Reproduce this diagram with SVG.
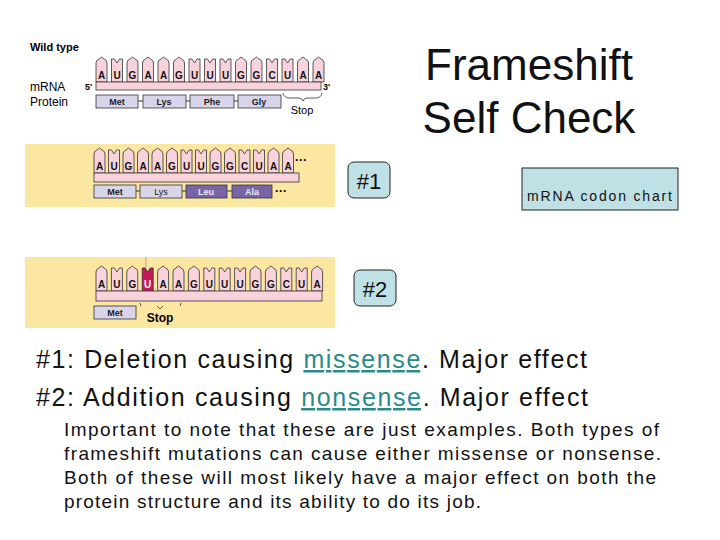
<svg xmlns="http://www.w3.org/2000/svg" xmlns:xlink="http://www.w3.org/1999/xlink" width="720" height="540" viewBox="0 0 720 540">
<style>
.t{font-family:"Liberation Sans",Arial,sans-serif}
.tile{fill:#f9d3dc;stroke:#333;stroke-width:0.8}
.bar{fill:#f9d3dc;stroke:#333;stroke-width:0.8}
.b{font-family:"Liberation Sans",Arial,sans-serif;font-size:10px;font-weight:bold;text-anchor:middle;fill:#111}
.p{fill:#d8d4ea;stroke:#333;stroke-width:0.8}
.pd{fill:#7a64a8;stroke:#333;stroke-width:0.8}
.pl{font-family:"Liberation Sans",Arial,sans-serif;font-size:9px;font-weight:bold;text-anchor:middle;fill:#222}
.plw{font-family:"Liberation Sans",Arial,sans-serif;font-size:9px;font-weight:bold;text-anchor:middle;fill:#ece8f8}
.box{fill:#bfe0e4;stroke:#222;stroke-width:1}
.big{font-family:"Liberation Sans",Arial,sans-serif;font-size:25px;fill:#111}
.sm{font-family:"Liberation Sans",Arial,sans-serif;font-size:19px;fill:#111}
.lk{fill:#2a8a8a;text-decoration:underline}
</style>
<defs>
<path id="pu" class="tile" d="M0,25 V6 Q0,3 3,2 L5.5,0 L8,2 Q11,3 11,6 V25 Z"/>
<path id="py" class="tile" d="M0,25 V2 L3,2 L5.5,6 L8,2 L11,2 V25 Z"/>
</defs>

<g id="wildtype">
<text x="30" y="51" class="t" font-size="11" font-weight="bold">Wild type</text>
<text x="30" y="91" class="t" font-size="12">mRNA</text>
<text x="30" y="106" class="t" font-size="12">Protein</text>
<text x="85" y="90" class="t" font-size="9" font-weight="bold">5'</text>
<text x="323" y="90" class="t" font-size="9" font-weight="bold">3'</text>
<use href="#pu" x="96" y="57"/><use href="#py" x="111.5" y="57"/><use href="#pu" x="127" y="57"/><use href="#pu" x="142.5" y="57"/><use href="#pu" x="158" y="57"/><use href="#pu" x="173.5" y="57"/><use href="#py" x="189" y="57"/><use href="#py" x="204.5" y="57"/><use href="#py" x="220" y="57"/><use href="#pu" x="235.5" y="57"/><use href="#pu" x="251" y="57"/><use href="#py" x="266.5" y="57"/><use href="#py" x="282" y="57"/><use href="#pu" x="297.5" y="57"/><use href="#pu" x="313" y="57"/>
<g class="b"><text x="101.5" y="79">A</text><text x="117" y="79">U</text><text x="132.5" y="79">G</text><text x="148" y="79">A</text><text x="163.5" y="79">A</text><text x="179" y="79">G</text><text x="194.5" y="79">U</text><text x="210" y="79">U</text><text x="225.5" y="79">U</text><text x="241" y="79">G</text><text x="256.5" y="79">G</text><text x="272" y="79">C</text><text x="287.5" y="79">U</text><text x="303" y="79">A</text><text x="318.5" y="79">A</text></g>
<rect class="bar" x="96" y="82" width="225" height="8"/>
<line x1="138" y1="101" x2="143" y2="101" stroke="#333"/><line x1="186" y1="101" x2="190" y2="101" stroke="#333"/><line x1="234" y1="101" x2="238" y2="101" stroke="#333"/>
<rect class="p" x="96" y="95" width="42" height="13"/><rect class="p" x="143" y="95" width="43" height="13"/><rect class="p" x="190" y="95" width="44" height="13"/><rect class="p" x="238" y="95" width="43" height="13"/>
<g class="pl"><text x="117" y="105">Met</text><text x="164" y="105">Lys</text><text x="212" y="105">Phe</text><text x="259" y="105">Gly</text></g>
<path d="M283,93 Q284,98 290,98 L299,98 Q302,98 303,101 Q304,98 307,98 L316,98 Q321,98 322,93" fill="none" stroke="#333" stroke-width="0.8"/>
<text x="302" y="114" class="t" font-size="11" text-anchor="middle">Stop</text>
</g>

<g id="panel1">
<rect x="25" y="144" width="310" height="63" fill="#fbe6a2"/>
<use href="#pu" x="94" y="148"/><use href="#py" x="108.5" y="148"/><use href="#pu" x="123" y="148"/><use href="#pu" x="137.5" y="148"/><use href="#pu" x="152" y="148"/><use href="#pu" x="166.5" y="148"/><use href="#py" x="181" y="148"/><use href="#py" x="195.5" y="148"/><use href="#pu" x="210" y="148"/><use href="#pu" x="224.5" y="148"/><use href="#py" x="239" y="148"/><use href="#py" x="253.5" y="148"/><use href="#pu" x="268" y="148"/><use href="#pu" x="282.5" y="148"/>
<g class="b"><text x="99.5" y="170">A</text><text x="114" y="170">U</text><text x="128.5" y="170">G</text><text x="143" y="170">A</text><text x="157.5" y="170">A</text><text x="172" y="170">G</text><text x="186.5" y="170">U</text><text x="201" y="170">U</text><text x="215.5" y="170">G</text><text x="230" y="170">G</text><text x="244.5" y="170">C</text><text x="259" y="170">U</text><text x="273.5" y="170">A</text><text x="288" y="170">A</text></g>
<text x="295" y="164" class="t" font-size="12" font-weight="bold">···</text>
<rect class="bar" x="94" y="173" width="205" height="9"/>
<line x1="136" y1="191" x2="140" y2="191" stroke="#333"/><line x1="182" y1="191" x2="186" y2="191" stroke="#333"/><line x1="227" y1="191" x2="232" y2="191" stroke="#333"/>
<rect class="p" x="94" y="185" width="42" height="13"/><rect class="p" x="140" y="185" width="42" height="13"/><rect class="pd" x="186" y="185" width="41" height="13"/><rect class="pd" x="232" y="185" width="40" height="13"/>
<g class="pl"><text x="115" y="195">Met</text><text x="161" y="195" font-weight="normal">Lys</text></g>
<g class="plw"><text x="206" y="195">Leu</text><text x="252" y="195">Ala</text></g>
<text x="275" y="195" class="t" font-size="12" font-weight="bold">···</text>
</g>

<g id="panel2">
<rect x="25" y="257" width="310" height="71" fill="#fbe6a2"/>
<line x1="146" y1="257" x2="146" y2="268" stroke="#888" stroke-width="0.7"/>
<use href="#pu" x="96" y="266"/><use href="#py" x="111.4" y="266"/><use href="#pu" x="126.8" y="266"/>
<path d="M142.2,291 V268 L145.2,268 L147.7,272 L150.2,268 L153.2,268 V291 Z" fill="#c8185a" stroke="#333" stroke-width="0.8"/>
<use href="#pu" x="157.6" y="266"/><use href="#pu" x="173" y="266"/><use href="#pu" x="188.4" y="266"/><use href="#py" x="203.8" y="266"/><use href="#py" x="219.2" y="266"/><use href="#py" x="234.6" y="266"/><use href="#pu" x="250" y="266"/><use href="#pu" x="265.4" y="266"/><use href="#py" x="280.8" y="266"/><use href="#py" x="296.2" y="266"/><use href="#pu" x="311.6" y="266"/>
<g class="b"><text x="101.5" y="288">A</text><text x="116.9" y="288">U</text><text x="132.3" y="288">G</text><text x="147.7" y="288" fill="#fff">U</text><text x="163.1" y="288">A</text><text x="178.5" y="288">A</text><text x="193.9" y="288">G</text><text x="209.3" y="288">U</text><text x="224.7" y="288">U</text><text x="240.1" y="288">U</text><text x="255.5" y="288">G</text><text x="270.9" y="288">G</text><text x="286.3" y="288">C</text><text x="301.7" y="288">U</text><text x="317.1" y="288">A</text></g>
<rect class="bar" x="96" y="291" width="226" height="10"/>
<rect class="p" x="94" y="306" width="42" height="13"/>
<text x="115" y="316" class="pl">Met</text>
<path d="M140,303 L141,306 M157,306 L160,309 L163,306 M180,306 L181,303" fill="none" stroke="#333" stroke-width="0.8"/>
<text x="160" y="322" class="t" font-size="12" font-weight="bold" text-anchor="middle">Stop</text>
</g>

<g id="title">
<text x="529" y="80" class="t" font-size="44" text-anchor="middle" fill="#111">Frameshift</text>
<text x="529" y="133" class="t" font-size="44" text-anchor="middle" fill="#111">Self Check</text>
</g>

<g id="label1">
<rect class="box" x="348" y="162" width="42" height="36" rx="6"/>
<text x="369" y="189" class="t" font-size="22" text-anchor="middle" fill="#111">#1</text>
</g>
<g id="chart">
<rect class="box" x="522" y="168" width="156" height="42"/>
<text x="527" y="201" class="t" font-size="14" fill="#111" textLength="145" lengthAdjust="spacing">mRNA  codon  chart</text>
</g>
<g id="label2">
<rect class="box" x="354" y="270" width="42" height="36" rx="6"/>
<text x="375" y="297" class="t" font-size="22" text-anchor="middle" fill="#111">#2</text>
</g>

<g id="text">
<text x="36" y="368" class="big" textLength="551" lengthAdjust="spacing">#1: Deletion causing <tspan class="lk">missense</tspan>.  Major effect</text>
<text x="36" y="406" class="big" textLength="552" lengthAdjust="spacing">#2: Addition causing <tspan class="lk">nonsense</tspan>.  Major effect</text>
<text x="64" y="436" class="sm" textLength="595" lengthAdjust="spacing">Important to note that these are just examples.  Both types of</text>
<text x="64" y="460" class="sm" textLength="597" lengthAdjust="spacing">frameshift mutations can cause either missense or nonsense.</text>
<text x="64" y="484" class="sm" textLength="592" lengthAdjust="spacing">Both of these will most likely have a major effect on both the</text>
<text x="64" y="508" class="sm" textLength="417" lengthAdjust="spacing">protein structure and its ability to do its job.</text>
</g>
</svg>
